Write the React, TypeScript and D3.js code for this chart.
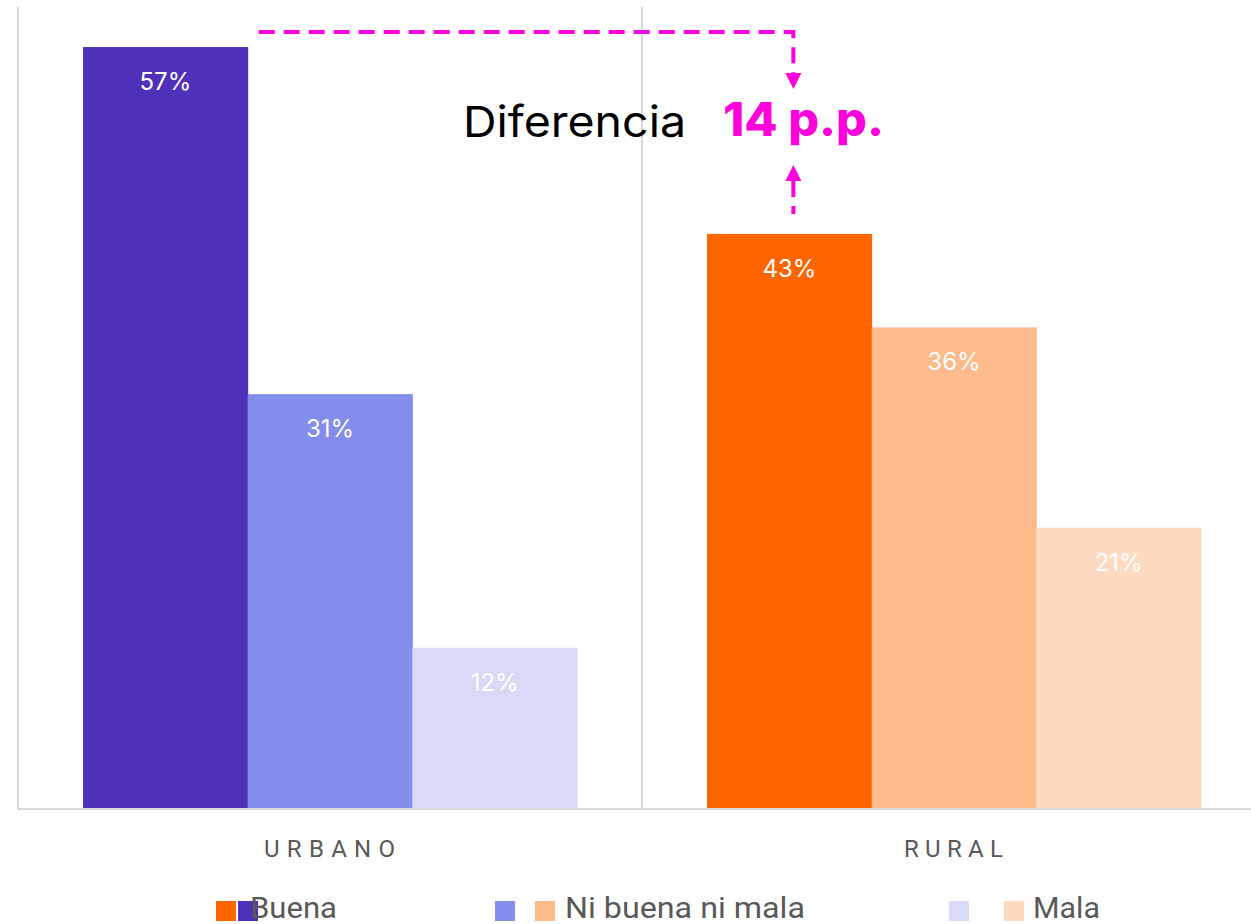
import React from "react";
import * as d3 from "d3";

const categories = ["URBANO", "RURAL"];
const seriesNames = ["Buena", "Ni buena ni mala", "Mala"];
const urbanoValues = [0.57, 0.31, 0.12];
const ruralValues = [0.43, 0.36, 0.21];
const urbanoColors = ["#4F30B9", "#848CEC", "#D8D9F6"];
const ruralColors = ["#FF6600", "#FDBA8B", "#FEDAC0"];
const diffLabel = "Diferencia";
const diffValue = "14 p.p.";

const W = 1251;
const H = 924;
const MAGENTA = "#FF00DD";

export default function App() {
  const plotLeft = 18;
  const plotTop = 7;
  const plotBottom = 808;
  const plotRight = 1266;

  const x = d3.scaleBand<string>().domain(categories).range([plotLeft, plotRight]).padding(0);
  const inner = d3
    .scaleBand<number>()
    .domain(d3.range(seriesNames.length))
    .range([0, x.bandwidth()])
    .paddingInner(0)
    .paddingOuter(0.395);
  const y = d3.scaleLinear().domain([0, 0.6]).range([plotBottom, plotTop]);

  const data = [
    { cat: categories[0], values: urbanoValues, colors: urbanoColors },
    { cat: categories[1], values: ruralValues, colors: ruralColors },
  ];

  const fmt = d3.format(".0%");

  const uTopY = y(urbanoValues[0]);
  const rTopY = y(ruralValues[0]);
  const lineY = uTopY - 15;
  const startX = (x(categories[0]) ?? 0) + (inner(0) ?? 0) + inner.bandwidth() + 11;
  const vX = (x(categories[1]) ?? 0) + (inner(0) ?? 0) + inner.bandwidth() / 2 + 4;
  const arrowDownTip = 89;
  const arrowUpTip = 165;
  const arrowH = 16;
  const arrowW = 8;

  const catWidths = [131, 99];

  const legendItems = [
    { swatches: [ruralColors[0], urbanoColors[0]], swX: [216, 238], textX: 250, tw: 87, label: seriesNames[0] },
    { swatches: [urbanoColors[1], ruralColors[1]], swX: [495, 535], textX: 565, tw: 240, label: seriesNames[1] },
    { swatches: [urbanoColors[2], ruralColors[2]], swX: [949, 1004], textX: 1033, tw: 67, label: seriesNames[2] },
  ];

  return (
    <svg width={W} height={H} style={{ display: "block", position: "absolute", left: 0, top: 0 }}>
      <rect x={0} y={0} width={W} height={H} fill="#fff" />
      {categories.map((c) => (
        <line
          key={c}
          x1={x(c)}
          x2={x(c)}
          y1={plotTop}
          y2={plotBottom}
          stroke="#D9D9D9"
          strokeWidth={2}
        />
      ))}
      {data.map((g) =>
        g.values.map((v, i) => {
          const bx = (x(g.cat) ?? 0) + (inner(i) ?? 0);
          return (
            <g key={g.cat + i}>
              <rect x={bx} y={y(v)} width={inner.bandwidth() + 0.5} height={plotBottom - y(v)} fill={g.colors[i]} />
              <text
                x={bx + inner.bandwidth() / 2}
                y={y(v) + 43}
                textAnchor="middle"
                fill="#fff"
                fontFamily="Inter, 'Open Sans', sans-serif"
                fontSize={24}
              >
                {fmt(v)}
              </text>
            </g>
          );
        })
      )}
      <line x1={plotLeft - 1} x2={W} y1={plotBottom + 1} y2={plotBottom + 1} stroke="#D9D9D9" strokeWidth={2} />
      {categories.map((c, i) => (
        <text
          key={c}
          x={(x(c) ?? 0) + x.bandwidth() / 2 - 0.5}
          y={857}
          textAnchor="middle"
          fill="#595959"
          fontFamily="Roboto, sans-serif"
          fontSize={24}
          textLength={catWidths[i]}
          lengthAdjust="spacing"
        >
          {c}
        </text>
      ))}
      <g stroke={MAGENTA} strokeWidth={4} fill="none" strokeDasharray="16 9">
        <path d={`M${startX},${lineY}H${vX}V${arrowDownTip - arrowH}`} />
        <path d={`M${vX},${arrowUpTip + arrowH}V${rTopY - 20}`} />
      </g>
      <path
        d={`M${vX - arrowW},${arrowDownTip - arrowH}L${vX + arrowW},${arrowDownTip - arrowH}L${vX},${arrowDownTip}Z`}
        fill={MAGENTA}
      />
      <path
        d={`M${vX - arrowW},${arrowUpTip + arrowH}L${vX + arrowW},${arrowUpTip + arrowH}L${vX},${arrowUpTip}Z`}
        fill={MAGENTA}
      />
      <text
        x={463}
        y={137}
        fill="#000"
        fontFamily="Inter, sans-serif"
        fontSize={43}
        textLength={223}
        lengthAdjust="spacingAndGlyphs"
      >
        {diffLabel}
      </text>
      <text
        x={723}
        y={136}
        fill={MAGENTA}
        fontFamily="Inter, sans-serif"
        fontWeight={800}
        fontSize={47}
        textLength={161}
        lengthAdjust="spacingAndGlyphs"
      >
        {diffValue}
      </text>
      {legendItems.map((it) => (
        <g key={it.label}>
          {it.swatches.map((c, k) => (
            <rect key={k} x={it.swX[k]} y={901} width={20} height={20} fill={c} />
          ))}
          <text
            x={it.textX}
            y={918}
            fill="#595959"
            fontFamily="Roboto, sans-serif"
            fontSize={29}
            textLength={it.tw}
            lengthAdjust="spacingAndGlyphs"
          >
            {it.label}
          </text>
        </g>
      ))}
    </svg>
  );
}
